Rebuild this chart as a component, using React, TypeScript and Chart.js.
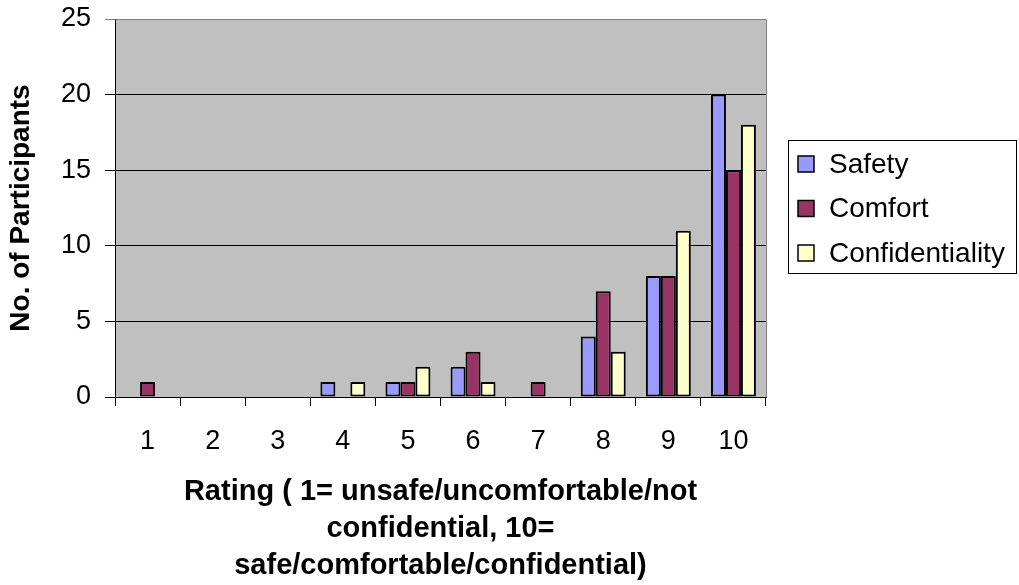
import React, { useEffect, useRef } from "react";
import { Chart, registerables } from "chart.js";

Chart.register(...registerables);

// Ratings given by participants (1 = worst, 10 = best)
const ratings = ["1", "2", "3", "4", "5", "6", "7", "8", "9", "10"];
const safety = [0, 0, 0, 1, 1, 2, 0, 4, 8, 20];
const comfort = [1, 0, 0, 0, 1, 3, 1, 7, 8, 15];
const confidentiality = [0, 0, 0, 1, 2, 1, 0, 3, 11, 18];

const seriesNames = ["Safety", "Comfort", "Confidentiality"];
const seriesColors = ["#9999FF", "#993366", "#FFFFCC"];

const yTicks = [0, 5, 10, 15, 20, 25];
const xTitle = [
  "Rating ( 1= unsafe/uncomfortable/not",
  "confidential, 10=",
  "safe/comfortable/confidential)",
];
const yTitle = "No. of Participants";

const FONT = "'Liberation Sans', Arial, sans-serif";

// Grey plot background plus the grey frame on the top and right edges
const plotFrame = {
  id: "plotFrame",
  beforeDraw(chart: any) {
    const { ctx, chartArea: a } = chart;
    ctx.save();
    ctx.fillStyle = "#C0C0C0";
    ctx.fillRect(a.left, a.top, a.right - a.left, a.bottom - a.top);
    ctx.restore();
  },
  afterDatasetsDraw(chart: any) {
    const { ctx, chartArea: a } = chart;
    ctx.save();
    ctx.strokeStyle = "#808080";
    ctx.lineWidth = 1;
    ctx.beginPath();
    ctx.moveTo(Math.round(a.left) + 0.5, Math.round(a.top) + 0.5);
    ctx.lineTo(Math.round(a.right) + 0.5, Math.round(a.top) + 0.5);
    ctx.lineTo(Math.round(a.right) + 0.5, Math.round(a.bottom) + 0.5);
    ctx.stroke();
    ctx.restore();
  },
};

// Boxed legend to the right of the plot
const boxLegend = {
  id: "boxLegend",
  afterDraw(chart: any) {
    const { ctx } = chart;
    const left = 788;
    const top = 140;
    const w = 228;
    const h = 133;
    ctx.save();
    ctx.strokeStyle = "#000";
    ctx.lineWidth = 1;
    ctx.strokeRect(left + 0.5, top + 0.5, w, h);
    ctx.font = `28px ${FONT}`;
    ctx.textBaseline = "middle";
    ctx.textAlign = "left";
    chart.data.datasets.forEach((ds: any, i: number) => {
      const cy = 164 + i * 44.5;
      ctx.fillStyle = ds.backgroundColor;
      ctx.fillRect(798, cy - 8, 16, 16);
      ctx.strokeStyle = "#000";
      ctx.lineWidth = 1.5;
      ctx.strokeRect(798, cy - 8, 16, 16);
      ctx.fillStyle = "#000";
      ctx.fillText(ds.label, 829, cy + 1);
    });
    ctx.restore();
  },
};

export default function App() {
  const canvasRef = useRef<HTMLCanvasElement | null>(null);

  useEffect(() => {
    if (!canvasRef.current) return;
    const values = [safety, comfort, confidentiality];
    const chart = new Chart(canvasRef.current, {
      type: "bar",
      data: {
        labels: ratings,
        datasets: values.map((v, i) => ({
          label: seriesNames[i],
          data: v,
          backgroundColor: seriesColors[i],
          borderColor: "#000",
          borderWidth: 2,
          borderSkipped: false,
          categoryPercentage: 0.69,
          barPercentage: 1,
        })),
      },
      options: {
        responsive: false,
        animation: false,
        devicePixelRatio: 1,
        layout: { padding: { left: 0, right: 253, top: 19, bottom: 0 } },
        plugins: {
          legend: { display: false },
          tooltip: { enabled: false },
        },
        scales: {
          x: {
            afterFit: (scale: any) => {
              scale.height = 188;
              scale.paddingLeft = 0;
              scale.paddingRight = 0;
            },
            grid: {
              display: true,
              offset: true,
              drawOnChartArea: false,
              drawTicks: true,
              tickLength: 9,
              color: "#000",
            },
            border: { display: true, color: "#000", width: 1 },
            ticks: {
              color: "#000",
              padding: 19,
              font: { family: FONT, size: 27 },
            },
            title: {
              display: true,
              text: xTitle,
              color: "#000",
              padding: { top: 0, bottom: 0 },
              font: { family: FONT, size: 29, weight: "bold", lineHeight: 1.28 },
            },
          },
          y: {
            min: 0,
            max: 25,
            afterFit: (scale: any) => {
              scale.width = 115;
              scale.paddingTop = 0;
              scale.paddingBottom = 0;
            },
            afterBuildTicks: (scale: any) => {
              scale.ticks = yTicks.map((v) => ({ value: v }));
            },
            grid: {
              color: (c: any) => (c.tick && c.tick.value === 25 ? "#808080" : "#000"),
              tickLength: 10,
              lineWidth: 1,
            },
            border: { display: true, color: "#000", width: 1 },
            ticks: {
              color: "#000",
              padding: 14,
              font: { family: FONT, size: 27 },
            },
            title: {
              display: true,
              text: yTitle,
              color: "#000",
              padding: { top: 4, bottom: 0 },
              font: { family: FONT, size: 28, weight: "bold" },
            },
          },
        },
      },
      plugins: [plotFrame, boxLegend],
    });
    return () => chart.destroy();
  }, []);

  return (
    <div
      style={{
        position: "fixed",
        left: 0,
        top: 0,
        width: 1019,
        height: 585,
        background: "#fff",
      }}
    >
      <canvas ref={canvasRef} width={1019} height={585} />
    </div>
  );
}
